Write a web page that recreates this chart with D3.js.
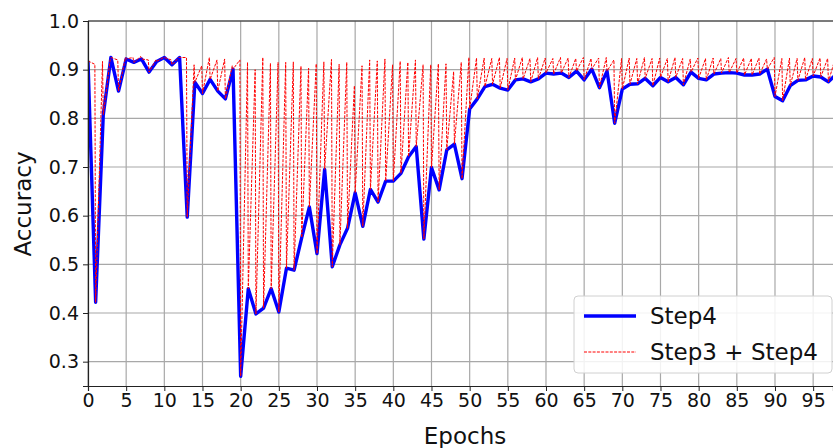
<!DOCTYPE html>
<meta charset="utf-8">
<style>
    body { margin: 0; background: #fff; }
    text { font-family: "DejaVu Sans", sans-serif; fill: #111; }
    .grid line { stroke: #a8a8a8; stroke-width: 1.2; }
    .axis path, .axis line { stroke: #222; }
</style>
<body>
<script src="https://cdn.jsdelivr.net/npm/d3@7"></script>
<script>

    // Step4 accuracy per epoch
    var step4 = [
        0.918, 0.422, 0.807, 0.925, 0.856, 0.922, 0.915, 0.922, 0.895, 0.917,
        0.925, 0.910, 0.925, 0.597, 0.874, 0.851, 0.880, 0.856, 0.840, 0.901,
        0.270, 0.450, 0.398, 0.410, 0.450, 0.402, 0.492, 0.488, 0.555, 0.618,
        0.522, 0.695, 0.495, 0.540, 0.574, 0.647, 0.578, 0.654, 0.628, 0.671,
        0.671, 0.687, 0.721, 0.742, 0.552, 0.699, 0.653, 0.735, 0.747, 0.676,
        0.819, 0.840, 0.865, 0.870, 0.862, 0.858, 0.879, 0.881, 0.875, 0.881,
        0.893, 0.891, 0.893, 0.884, 0.897, 0.879, 0.901, 0.863, 0.897, 0.790,
        0.860, 0.870, 0.871, 0.882, 0.867, 0.884, 0.875, 0.884, 0.869, 0.895,
        0.882, 0.879, 0.891, 0.893, 0.894, 0.893, 0.889, 0.889, 0.891, 0.901,
        0.845, 0.836, 0.867, 0.878, 0.879, 0.887, 0.885, 0.875, 0.890
    ];

    // Step3 accuracy reached between two Step4 evaluations
    var step3 = [
        0.911, 0.917, 0.920, 0.920, 0.925, 0.925, 0.927, 0.920, 0.920, 0.925,
        0.920, 0.925, 0.925, 0.910, 0.908, 0.925, 0.920, 0.922, 0.908, 0.920,
        0.915, 0.900, 0.925, 0.913, 0.915, 0.915, 0.916, 0.907, 0.903, 0.912,
        0.916, 0.921, 0.911, 0.915, 0.867, 0.908, 0.920, 0.918, 0.922, 0.910,
        0.917, 0.915, 0.920, 0.910, 0.910, 0.912, 0.912, 0.896, 0.915, 0.925,
        0.924, 0.924, 0.923, 0.925, 0.923, 0.924, 0.925, 0.923, 0.925, 0.924,
        0.923, 0.925, 0.924, 0.923, 0.925, 0.923, 0.924, 0.925, 0.920, 0.923,
        0.924, 0.923, 0.925, 0.923, 0.924, 0.923, 0.925, 0.923, 0.922, 0.924,
        0.923, 0.924, 0.923, 0.925, 0.923, 0.924, 0.923, 0.924, 0.922, 0.925,
        0.923, 0.924, 0.923, 0.925, 0.923, 0.924, 0.923, 0.924
    ];

    var xTicks = d3.range(0, 100, 5);
    var yTicks = [0.3, 0.4, 0.5, 0.6, 0.7, 0.8, 0.9, 1.0];
    var seriesNames = ["Step4", "Step3 + Step4"];

    var width = 833,
        height = 448;
    var margin = {top: 21, right: 0, bottom: 62, left: 88};

    var x = d3.scaleLinear()
        .domain([0, 97.6])
        .range([margin.left, width - margin.right]);
    var y = d3.scaleLinear()
        .domain([0.25, 1.0])
        .range([height - margin.bottom, margin.top]);

    var svg = d3.select("body").append("svg")
        .attr("width", width)
        .attr("height", height);

    svg.append("defs").append("clipPath").attr("id", "clip")
        .append("rect")
        .attr("x", margin.left).attr("y", margin.top - 5)
        .attr("width", width - margin.left).attr("height", height - margin.bottom - margin.top + 5);

    // grid
    var grid = svg.append("g").attr("class", "grid");
    grid.selectAll(".gx").data(xTicks).enter().append("line")
        .attr("x1", function(d) { return x(d); }).attr("x2", function(d) { return x(d); })
        .attr("y1", y(0.25)).attr("y2", y(1.0));
    grid.selectAll(".gy").data(yTicks).enter().append("line")
        .attr("x1", margin.left).attr("x2", width)
        .attr("y1", function(d) { return y(d); }).attr("y2", function(d) { return y(d); });

    // top spine
    svg.append("line")
        .attr("x1", margin.left).attr("x2", width)
        .attr("y1", y(1.0)).attr("y2", y(1.0))
        .attr("stroke", "#222").attr("stroke-width", 1);

    var plot = svg.append("g").attr("clip-path", "url(#clip)");

    // red dotted sawtooth: Step4 value at each epoch, Step3 value just before the next
    var redPts = [];
    step4.forEach(function(v, i) {
        redPts.push([i, v]);
        if (i < step3.length) redPts.push([i + 0.9, step3[i]]);
    });

    var line = d3.line()
        .x(function(d) { return x(d[0]); })
        .y(function(d) { return y(d[1]); });

    plot.append("path")
        .datum(step4.map(function(v, i) { return [i, v]; }))
        .attr("d", line)
        .attr("fill", "none")
        .attr("stroke", "#0000ff")
        .attr("stroke-width", 3.4)
        .attr("stroke-linejoin", "round");

    plot.append("path")
        .datum(redPts)
        .attr("d", line)
        .attr("fill", "none")
        .attr("stroke", "#ff0000")
        .attr("stroke-width", 1)
        .attr("stroke-dasharray", "3,1.3");

    // axes
    var xAxis = svg.append("g")
        .attr("class", "axis")
        .attr("transform", "translate(0," + y(0.25) + ")")
        .call(d3.axisBottom(x).tickValues(xTicks).tickSize(5).tickPadding(3));
    xAxis.selectAll("text").style("font-size", "19px");

    var yAxis = svg.append("g")
        .attr("class", "axis")
        .attr("transform", "translate(" + margin.left + ",0)")
        .call(d3.axisLeft(y).tickValues(yTicks).tickFormat(d3.format(".1f")).tickSize(5).tickPadding(4));
    yAxis.selectAll("text").style("font-size", "19px");
    svg.selectAll(".axis .domain").attr("stroke-width", 1.2);

    svg.append("text")
        .attr("x", 465).attr("y", 444)
        .attr("text-anchor", "middle")
        .style("font-size", "23px")
        .text("Epochs");

    svg.append("text")
        .attr("transform", "translate(31,204) rotate(-90)")
        .attr("text-anchor", "middle")
        .style("font-size", "23px")
        .text("Accuracy");

    // legend
    var lg = svg.append("g");
    lg.append("rect")
        .attr("x", 574).attr("y", 296)
        .attr("width", 258).attr("height", 77)
        .attr("rx", 4)
        .attr("fill", "rgba(255,255,255,0.85)")
        .attr("stroke", "#d0d0d0");
    lg.append("line")
        .attr("x1", 584).attr("x2", 636).attr("y1", 316).attr("y2", 316)
        .attr("stroke", "#0000ff").attr("stroke-width", 3.4);
    lg.append("line")
        .attr("x1", 584).attr("x2", 636).attr("y1", 352).attr("y2", 352)
        .attr("stroke", "#ff0000").attr("stroke-width", 1).attr("stroke-dasharray", "3,1.3");
    lg.selectAll(".lt").data(seriesNames).enter().append("text")
        .attr("x", 650)
        .attr("y", function(d, i) { return 324 + i * 36; })
        .style("font-size", "23px")
        .text(function(d) { return d; });

</script>
